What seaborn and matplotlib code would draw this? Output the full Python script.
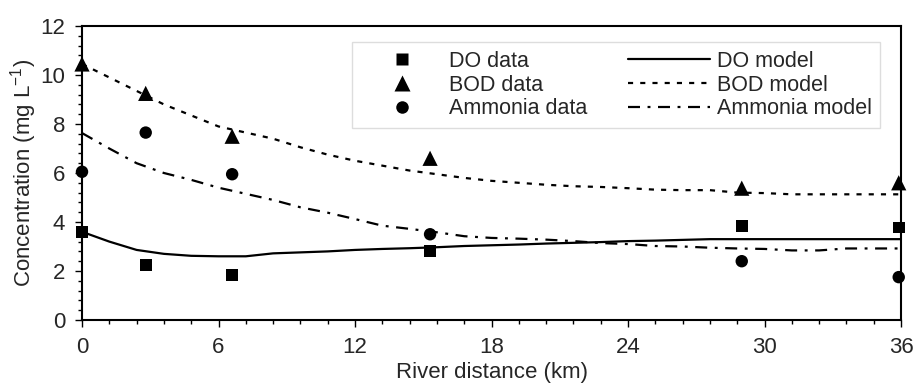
import numpy as np
import pandas as pd
import matplotlib
matplotlib.use("Agg")
import matplotlib.pyplot as plt
from matplotlib.ticker import MultipleLocator
from matplotlib.lines import Line2D
import seaborn as sns

# ---- data ----
obs_km = [0.0, 2.8, 6.6, 15.3, 29.0, 35.9]
do_data = [3.6, 2.24, 1.84, 2.82, 3.84, 3.78]
bod_data = [10.45, 9.25, 7.5, 6.6, 5.38, 5.6]
amm_data = [6.05, 7.65, 5.95, 3.5, 2.4, 1.75]

model_km = [0.0, 1.2, 2.4, 3.6, 4.8, 6.0, 7.2, 8.4, 9.6, 10.8, 12.0, 13.2, 14.4,
            15.6, 16.8, 18.0, 19.2, 20.4, 21.6, 22.8, 24.0, 25.2, 26.4, 27.6,
            28.8, 30.0, 31.2, 32.4, 33.6, 34.8, 36.0]
do_model = [3.6, 3.2, 2.86, 2.7, 2.62, 2.6, 2.6, 2.72, 2.76, 2.8, 2.86, 2.9, 2.93,
            2.97, 3.02, 3.05, 3.08, 3.12, 3.15, 3.18, 3.22, 3.24, 3.27, 3.3,
            3.3, 3.3, 3.3, 3.3, 3.3, 3.3, 3.3]
bod_model = [10.45, 9.9, 9.35, 8.8, 8.35, 7.9, 7.65, 7.4, 7.05, 6.75, 6.5, 6.3, 6.1,
             5.95, 5.8, 5.68, 5.6, 5.52, 5.46, 5.43, 5.38, 5.32, 5.3, 5.3,
             5.2, 5.18, 5.13, 5.13, 5.13, 5.13, 5.13]
amm_model = [7.63, 7.0, 6.4, 6.0, 5.72, 5.4, 5.15, 4.9, 4.6, 4.38, 4.12, 3.85, 3.72,
             3.58, 3.42, 3.35, 3.32, 3.28, 3.22, 3.14, 3.1, 3.02, 3.0, 2.95,
             2.92, 2.9, 2.84, 2.84, 2.92, 2.92, 2.92]

x_ticks = [0, 6, 12, 18, 24, 30, 36]
y_ticks = [0, 2, 4, 6, 8, 10, 12]

obs = pd.DataFrame({"km": obs_km, "DO": do_data, "BOD": bod_data, "NH": amm_data})
mod = pd.DataFrame({"km": model_km, "DO": do_model, "BOD": bod_model, "NH": amm_model})

# ---- style ----
sns.set_style("white")
plt.rcParams["font.family"] = ["Liberation Sans", "DejaVu Sans"]
plt.rcParams["mathtext.fontset"] = "custom"
plt.rcParams["mathtext.rm"] = "Liberation Sans"
plt.rcParams["mathtext.it"] = "Liberation Sans:italic"
plt.rcParams["mathtext.bf"] = "Liberation Sans:bold"
FS = 16
LFS = 15.5

fig = plt.figure(figsize=(9.15, 3.86), dpi=100)
ax = fig.add_axes([82 / 915, 1 - 320 / 386, (901 - 82) / 915, (320 - 26) / 386])

lw = 1.6
sns.lineplot(data=mod, x="km", y="DO", ax=ax, color="black", lw=lw, linestyle="-")
sns.lineplot(data=mod, x="km", y="BOD", ax=ax, color="black", lw=lw,
             linestyle=(0, (2.3, 3.2)))
sns.lineplot(data=mod, x="km", y="NH", ax=ax, color="black", lw=lw,
             linestyle=(0, (5.4, 3.4, 1.3, 3.4)))

sns.scatterplot(data=obs, x="km", y="DO", ax=ax, marker="s", s=70, color="black",
                edgecolor="none", clip_on=False, zorder=5)
sns.scatterplot(data=obs, x="km", y="BOD", ax=ax, marker="^", s=120, color="black",
                edgecolor="none", clip_on=False, zorder=5)
sns.scatterplot(data=obs, x="km", y="NH", ax=ax, marker="o", s=80, color="black",
                edgecolor="none", clip_on=False, zorder=5)

ax.set_xlim(0, 36)
ax.set_ylim(0, 12)
ax.set_xticks(x_ticks)
ax.set_yticks(y_ticks)
ax.xaxis.set_minor_locator(MultipleLocator(1.2))
ax.yaxis.set_minor_locator(MultipleLocator(0.4))
ax.tick_params(which="both", direction="out", color="black", width=1,
               top=False, right=False, bottom=True, left=True, labelsize=FS)
ax.tick_params(which="major", length=5, pad=7)
ax.tick_params(which="minor", length=3)
for sp in ax.spines.values():
    sp.set_visible(True)
    sp.set_color("black")
    sp.set_linewidth(1.5)

ax.set_xlabel("River distance (km)", fontsize=FS, labelpad=3)
ax.set_ylabel(r"Concentration (mg L$^{-1}$)", fontsize=FS, labelpad=1)

handles = [
    Line2D([], [], ls="none", marker="s", ms=8.4, color="black", mec="none"),
    Line2D([], [], ls="none", marker="^", ms=11, color="black", mec="none"),
    Line2D([], [], ls="none", marker="o", ms=9, color="black", mec="none"),
    Line2D([], [], color="black", lw=lw, ls="-"),
    Line2D([], [], color="black", lw=lw, ls=(0, (2.3, 3.2))),
    Line2D([], [], color="black", lw=lw, ls=(0, (5.4, 3.4, 1.3, 3.4))),
]
labels = ["DO data", "BOD data", "Ammonia data", "DO model", "BOD model", "Ammonia model"]
leg = ax.legend(handles, labels, ncol=2, loc="upper left", bbox_to_anchor=(0.33, 0.945),
                fontsize=LFS, frameon=True, fancybox=False, framealpha=1,
                edgecolor="#dddddd", handlelength=3.8, handletextpad=0.3,
                columnspacing=1.9, labelspacing=0.13, borderpad=0.4,
                borderaxespad=0)
leg.get_frame().set_linewidth(1.0)

fig.savefig("out.png", dpi=100)
